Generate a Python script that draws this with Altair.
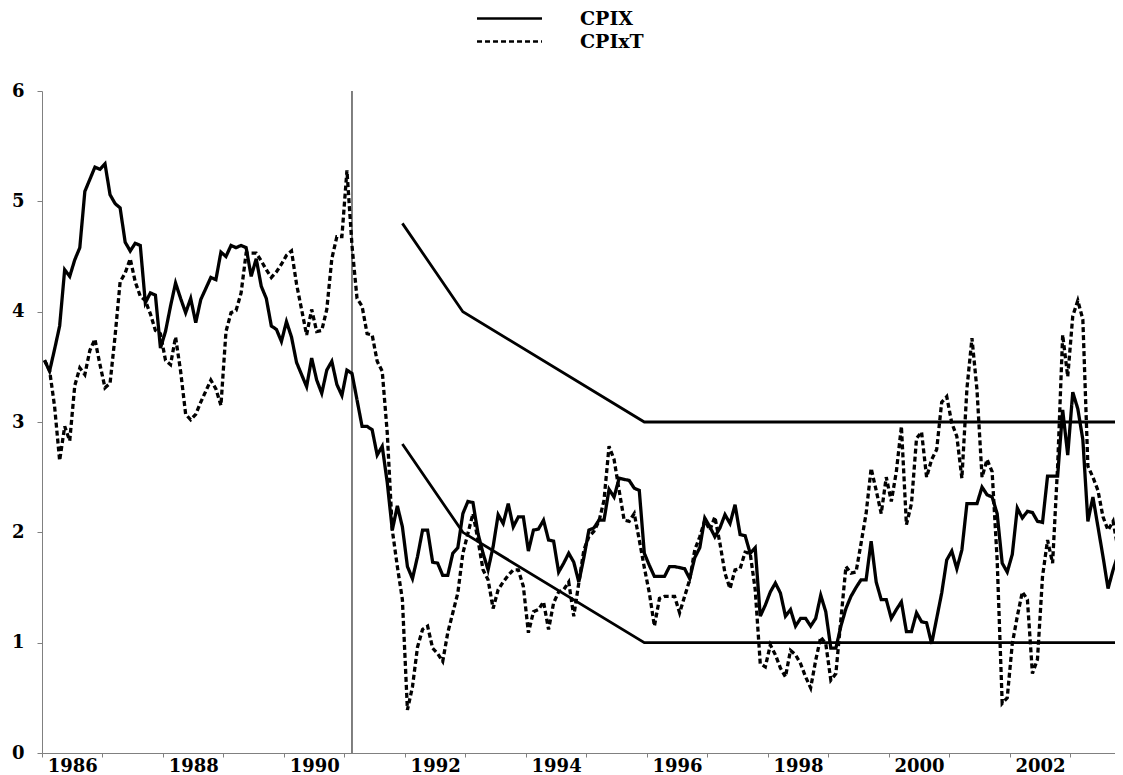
import altair as alt
import pandas as pd

# ---------------- data (monthly, starting January 1986) ----------------
start_year = 1986
series_names = ["CPIX", "CPIxT"]

cpix = [
    3.56, 3.46, 3.66, 3.87, 4.38, 4.32, 4.47, 4.58, 5.09, 5.20, 5.31, 5.29,
    5.34, 5.06, 4.98, 4.94, 4.63, 4.55, 4.62, 4.60, 4.08, 4.17, 4.15, 3.67,
    3.82, 4.05, 4.26, 4.12, 3.99, 4.12, 3.90, 4.11, 4.21, 4.31, 4.29, 4.54,
    4.50, 4.60, 4.58, 4.60, 4.58, 4.32, 4.48, 4.23, 4.12, 3.87, 3.84, 3.73,
    3.91, 3.77, 3.54, 3.43, 3.32, 3.58, 3.38, 3.26, 3.47, 3.55, 3.34, 3.24,
    3.47, 3.44, 3.20, 2.96, 2.96, 2.93, 2.70, 2.78, 2.45, 2.02, 2.24, 2.05,
    1.69, 1.58, 1.78, 2.02, 2.02, 1.73, 1.72, 1.61, 1.61, 1.81, 1.86, 2.17,
    2.28, 2.27, 1.99, 1.81, 1.66, 1.87, 2.16, 2.08, 2.26, 2.05, 2.14, 2.14,
    1.83, 2.02, 2.03, 2.11, 1.93, 1.92, 1.64, 1.72, 1.81, 1.73, 1.55, 1.77,
    2.02, 2.04, 2.11, 2.11, 2.39, 2.32, 2.49, 2.48, 2.47, 2.40, 2.38, 1.81,
    1.70, 1.60, 1.60, 1.60, 1.69, 1.69, 1.68, 1.67, 1.58, 1.77, 1.86, 2.13,
    2.05, 1.96, 2.04, 2.16, 2.08, 2.25, 1.98, 1.97, 1.81, 1.86, 1.24, 1.34,
    1.46, 1.54, 1.45, 1.24, 1.30, 1.15, 1.22, 1.22, 1.15, 1.22, 1.43, 1.28,
    0.95, 0.95, 1.15, 1.31, 1.42, 1.50, 1.57, 1.57, 1.92, 1.55, 1.39, 1.39,
    1.22, 1.30, 1.37, 1.10, 1.10, 1.27, 1.19, 1.18, 0.99, 1.22, 1.45, 1.75,
    1.83, 1.67, 1.84, 2.26, 2.26, 2.26, 2.41, 2.34, 2.32, 2.17, 1.72, 1.64,
    1.80, 2.22, 2.13, 2.19, 2.18, 2.10, 2.09, 2.51, 2.51, 2.51, 3.11, 2.70,
    3.27, 3.12, 2.84, 2.10, 2.32, 2.05, 1.78, 1.49, 1.66, 1.80, 1.85,
]

cpixt = [
    3.56, 3.47, 3.14, 2.65, 2.96, 2.83, 3.33, 3.49, 3.43, 3.65, 3.75, 3.52,
    3.31, 3.35, 3.78, 4.27, 4.35, 4.48, 4.27, 4.14, 4.10, 3.98, 3.83, 3.80,
    3.56, 3.52, 3.77, 3.46, 3.07, 3.02, 3.07, 3.18, 3.28, 3.38, 3.30, 3.15,
    3.82, 3.99, 4.01, 4.17, 4.53, 4.53, 4.53, 4.46, 4.38, 4.31, 4.36, 4.43,
    4.51, 4.55, 4.25, 4.02, 3.79, 4.02, 3.82, 3.83, 4.02, 4.48, 4.68, 4.68,
    5.28, 4.60, 4.12, 4.05, 3.80, 3.79, 3.55, 3.46, 2.90, 2.02, 1.69, 1.39,
    0.39, 0.60, 0.96, 1.12, 1.15, 0.95, 0.90, 0.83, 1.09, 1.27, 1.45, 1.81,
    1.99, 2.17, 1.93, 1.66, 1.57, 1.31, 1.48, 1.55, 1.61, 1.66, 1.66, 1.51,
    1.09, 1.28, 1.30, 1.37, 1.12, 1.36, 1.46, 1.48, 1.55, 1.24, 1.54, 1.84,
    1.96, 2.01, 2.10, 2.29, 2.78, 2.66, 2.38, 2.11, 2.10, 2.17, 1.93, 1.68,
    1.45, 1.15, 1.40, 1.42, 1.42, 1.42, 1.27, 1.42, 1.57, 1.84, 1.96, 2.11,
    2.02, 2.14, 1.90, 1.63, 1.49, 1.66, 1.67, 1.82, 1.81, 1.48, 0.81, 0.78,
    0.98, 0.89, 0.77, 0.69, 0.93, 0.89, 0.81, 0.69, 0.59, 0.84, 1.05, 0.99,
    0.66, 0.72, 1.21, 1.69, 1.63, 1.64, 1.90, 2.17, 2.58, 2.38, 2.17, 2.50,
    2.28, 2.55, 2.96, 2.07, 2.26, 2.85, 2.91, 2.50, 2.66, 2.75, 3.18, 3.23,
    2.99, 2.87, 2.49, 3.30, 3.76, 3.29, 2.50, 2.66, 2.55, 1.75, 0.45, 0.50,
    0.99, 1.24, 1.46, 1.39, 0.72, 0.85, 1.60, 1.93, 1.72, 2.60, 3.79, 3.41,
    3.96, 4.10, 3.93, 2.60, 2.50, 2.38, 2.14, 2.02, 2.10, 1.84, 1.57,
]

# inflation-control target band (year-month, upper, lower)
band_months = ["1991-12", "1992-12", "1995-12", "2003-11"]
band_upper = [4.8, 4.0, 3.0, 3.0]
band_lower = [2.8, 2.0, 1.0, 1.0]

announce_month = "1991-02"
year_ticks = list(range(1986, 2004))
y_ticks = [0, 1, 2, 3, 4, 5, 6]
x_domain_end = 2003.74


def month_pos(ym):
    y, m = (int(p) for p in ym.split("-"))
    return y + (m - 0.5) / 12.0


rows = []
for name, vals in zip(series_names, [cpix, cpixt]):
    for i, v in enumerate(vals):
        rows.append({"t": start_year + (i + 0.5) / 12.0, "v": v, "series": name})
series_df = pd.DataFrame(rows)

band_rows = []
for bname, vals in [("upper", band_upper), ("lower", band_lower)]:
    for ym, v in zip(band_months, vals):
        band_rows.append({"t": month_pos(ym), "v": v, "band": bname})
band_df = pd.DataFrame(band_rows)

vline_df = pd.DataFrame({"t": [month_pos(announce_month)]})

FONT = "DejaVu Serif"
W = 1073
H = 662
FS = 18

x_scale = alt.Scale(domain=[start_year, x_domain_end], nice=False, zero=False)
y_scale = alt.Scale(domain=[0, 6], nice=False)

x_axis = alt.Axis(
    values=year_ticks,
    labelExpr="datum.value % 2 == 0 ? '' + datum.value : ''",
    labelOffset=W / (x_domain_end - start_year) / 2.0,
    labelOverlap=False,
    labelFlush=False,
    labelBound=False,
    title=None,
    grid=False,
    tickSize=4,
    tickColor="#808080",
    domainColor="#808080",
    labelFont=FONT,
    labelFontWeight="bold",
    labelFontSize=FS,
    labelColor="black",
    labelPadding=0,
)
y_axis = alt.Axis(
    values=y_ticks,
    format="d",
    title=None,
    grid=False,
    tickSize=5,
    tickColor="#808080",
    domainColor="#808080",
    labelFont=FONT,
    labelFontWeight="bold",
    labelFontSize=FS,
    labelColor="black",
    labelPadding=13,
)

legend = alt.Legend(
    title=None,
    orient="none",
    legendX=455,
    legendY=-85,
    direction="vertical",
    symbolType="M-3,0L3,0",
    symbolSize=469,
    symbolStrokeWidth=2.6,
    labelFont=FONT,
    labelFontWeight="bold",
    labelFontSize=19,
    labelColor="black",
    labelOffset=58,
    rowPadding=0,
)

lines = alt.Chart(series_df).mark_line(strokeWidth=3.3, clip=True).encode(
    x=alt.X("t:Q", scale=x_scale, axis=x_axis),
    y=alt.Y("v:Q", scale=y_scale, axis=y_axis),
    color=alt.Color(
        "series:N",
        scale=alt.Scale(domain=series_names, range=["black", "black"]),
        legend=legend,
    ),
    strokeDash=alt.StrokeDash(
        "series:N",
        scale=alt.Scale(domain=series_names, range=[[1, 0], [5, 3]]),
        legend=legend,
    ),
)

bands = alt.Chart(band_df).mark_line(strokeWidth=2.8, color="black", clip=True).encode(
    x=alt.X("t:Q", scale=x_scale),
    y=alt.Y("v:Q", scale=y_scale),
    detail="band:N",
)

vline = alt.Chart(vline_df).mark_rule(color="#555555", strokeWidth=1.5).encode(
    x=alt.X("t:Q", scale=x_scale),
)

chart = (
    alt.layer(vline, bands, lines)
    .properties(
        width=W,
        height=H,
        autosize=alt.AutoSizeParams(type="none"),
        padding={"left": 34, "top": 83, "right": 0, "bottom": 30},
        background="white",
    )
    .configure_view(stroke=None)
)

chart.save("out.html", embed_options={"renderer": "svg", "actions": False})
